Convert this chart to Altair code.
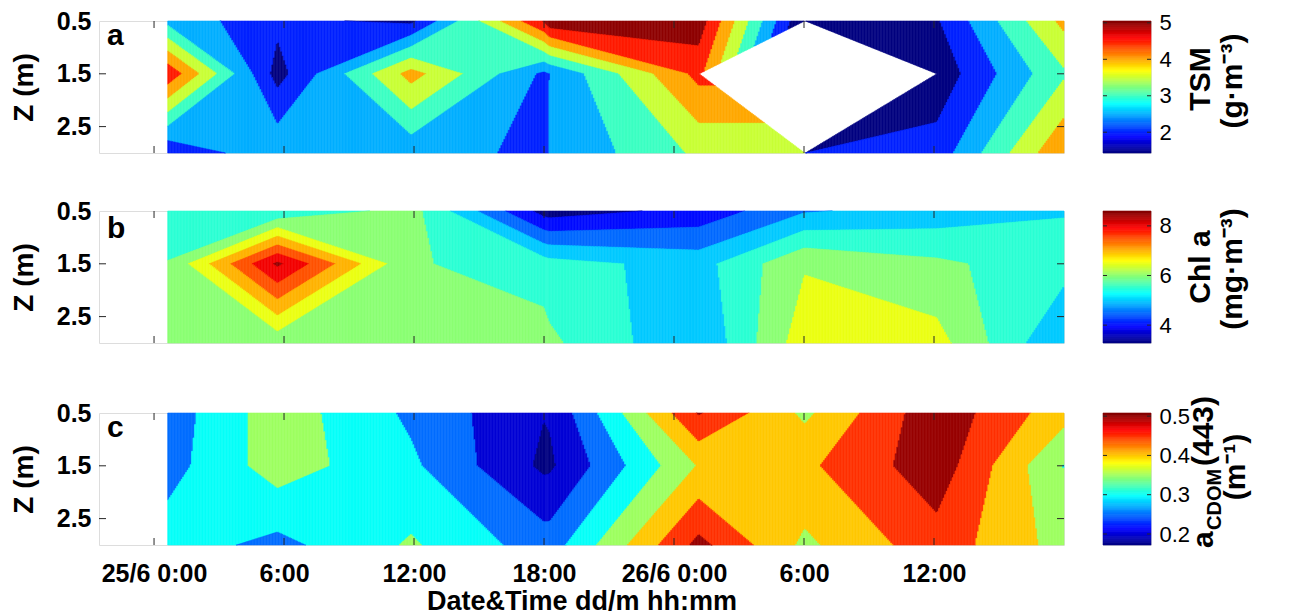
import math
import pandas as pd
import altair as alt

# ---------------- data ----------------
# sampling times in hours after 25/6 0:00 (two near-duplicate profiles where the
# reference shows abrupt, vertical colour jumps)
TIME_H = [0.63, 5.71, 11.88, 18.0, 18.28, 25.15, 30.02, 30.07, 36.14, 42.0]
DEPTH_M = [0.5, 1.5, 3.0]
NAN = float("nan")

TSM_05 = [2.85, 2.12, 1.88, 5.05, 5.40, 5.30, 1.50, 1.50, 1.95, 4.15]
TSM_15 = [4.90, 1.80, 4.20, 2.40, 2.51, 4.66, NAN, NAN, 1.67, 3.43]
TSM_30 = [2.05, 2.90, 2.65, 2.42, 2.52, 3.60, 3.60, 2.00, 2.21, 4.46]

CHL_05 = [5.70, 5.55, 6.20, 3.80, 3.75, 4.15, 4.95, 4.95, 5.20, 5.47]
CHL_15 = [6.02, 8.60, 6.05, 5.76, 5.70, 5.30, 6.45, 6.45, 6.10, 5.70]
CHL_30 = [6.20, 6.15, 6.30, 6.20, 6.10, 5.03, 6.80, 6.80, 6.69, 5.00]

CDOM_05 = [0.272, 0.379, 0.290, 0.202, 0.205, 0.505, 0.390, 0.390, 0.535, 0.420]
CDOM_15 = [0.280, 0.376, 0.310, 0.190, 0.192, 0.404, 0.440, 0.440, 0.530, 0.348]
CDOM_30 = [0.325, 0.285, 0.3565, 0.275, 0.275, 0.515, 0.390, 0.390, 0.480, 0.380]

TSM_LEVELS = [2.0, 2.5, 3.0, 3.5, 4.0, 4.5, 5.0]
CHL_LEVELS = [4.0, 4.5, 5.0, 5.5, 6.0, 6.5, 7.0, 7.5, 8.0, 8.5]
CDOM_LEVELS = [0.20, 0.25, 0.30, 0.35, 0.40, 0.45, 0.50]

TSM_CLIM = [1.43, 5.05]
CHL_CLIM = [3.28, 8.60]
CDOM_CLIM = [0.172, 0.508]

TSM_TICKS = [2, 3, 4, 5]
CHL_TICKS = [4, 6, 8]
CDOM_TICKS = [0.2, 0.3, 0.4, 0.5]

X_TICKS_H = [0, 6, 12, 18, 24, 30, 36]
X_TICK_LABELS = ["25/6 0:00", "6:00", "12:00", "18:00", "26/6 0:00", "6:00", "12:00"]
X_DOMAIN = [-2.54, 42.0]
Y_TICKS = [0.5, 1.5, 2.5]

# ---------------- style ----------------
W, H = 965, 132
CBW = 48
FONT = "Liberation Sans, Arial, sans-serif"
FRAME = "#262626"


def jet(t):
    t = min(max(t, 0.0), 1.0)
    r = min(max(1.5 - abs(4 * t - 3), 0.0), 1.0)
    g = min(max(1.5 - abs(4 * t - 2), 0.0), 1.0)
    b = min(max(1.5 - abs(4 * t - 1), 0.0), 1.0)
    return "#%02x%02x%02x" % (round(r * 255), round(g * 255), round(b * 255))


def band_colors(levels, clim):
    lo, hi = clim
    return [jet(0.0)] + [jet((L - lo) / (hi - lo)) for L in levels]


# ---------------- filled-contour rendering (linear, marching squares) ----------------
def vline_extent(poly, xs):
    ys = []
    n = len(poly)
    for i in range(n):
        x0, y0 = poly[i][0], poly[i][1]
        x1, y1 = poly[(i + 1) % n][0], poly[(i + 1) % n][1]
        if x0 == x1:
            if x0 == xs:
                ys += [y0, y1]
            continue
        if (x0 - xs) * (x1 - xs) <= 0:
            f = (xs - x0) / (x1 - x0)
            ys.append(y0 + f * (y1 - y0))
    if not ys:
        return None
    return min(ys), max(ys)


def crossing(p, q, L):
    f = (L - p[2]) / (q[2] - p[2])
    return (p[0] + f * (q[0] - p[0]), p[1] + f * (q[1] - p[1]))


def above_polys(poly, L):
    n = len(poly)
    flags = [p[2] >= L for p in poly]
    if n == 4 and flags[0] == flags[2] and flags[1] == flags[3] and flags[0] != flags[1]:
        centre = sum(p[2] for p in poly) / 4.0
        if centre < L:  # saddle resolved as two separate corners
            out = []
            for i in range(4):
                if flags[i]:
                    p, prv, nxt = poly[i], poly[i - 1], poly[(i + 1) % 4]
                    out.append([(p[0], p[1]), crossing(p, nxt, L), crossing(prv, p, L)])
            return out
    out = []
    for i in range(n):
        p = poly[i]
        q = poly[(i + 1) % n]
        if p[2] >= L:
            out.append((p[0], p[1]))
        if (p[2] - L) * (q[2] - L) < 0:
            out.append(crossing(p, q, L))
    return [out] if len(out) >= 3 else []


def contour_table(times, depths, grid, levels, colors, step):
    rows = []
    for i in range(len(times) - 1):
        t0, t1 = times[i], times[i + 1]
        pieces = []
        for j in range(len(depths) - 1):
            corners = [
                (t0, depths[j], grid[j][i]),
                (t1, depths[j], grid[j][i + 1]),
                (t1, depths[j + 1], grid[j + 1][i + 1]),
                (t0, depths[j + 1], grid[j + 1][i]),
            ]
            valid = [c for c in corners if not math.isnan(c[2])]
            if len(valid) >= 3:
                pieces.append(valid)
        above = [[above_polys(p, L) for L in levels] for p in pieces]
        n = max(1, int(math.ceil((t1 - t0) / step)))
        for s in range(n):
            xa = t0 + (t1 - t0) * s / n
            xb = t0 + (t1 - t0) * (s + 1) / n
            xs = 0.5 * (xa + xb)
            segs = []
            for p, ab in zip(pieces, above):
                ext = vline_extent([(c[0], c[1]) for c in p], xs)
                if ext is None:
                    continue
                y0, y1 = ext
                ivs = []
                for polys in ab:
                    lst = []
                    for q in polys:
                        e = vline_extent(q, xs)
                        if e:
                            lst.append(e)
                    ivs.append(lst)
                bps = {y0, y1}
                for lst in ivs:
                    for e in lst:
                        bps.add(min(max(e[0], y0), y1))
                        bps.add(min(max(e[1], y0), y1))
                bps = sorted(bps)
                for a, b in zip(bps[:-1], bps[1:]):
                    if b - a < 1e-9:
                        continue
                    m = 0.5 * (a + b)
                    k = sum(1 for lst in ivs if any(e[0] <= m <= e[1] for e in lst))
                    segs.append((a, b, k))
            segs.sort()
            merged = []
            for a, b, k in segs:
                if merged and merged[-1][2] == k and abs(merged[-1][1] - a) < 1e-7:
                    merged[-1][1] = b
                else:
                    merged.append([a, b, k])
            for a, b, k in merged:
                rows.append({"x0": round(xa, 4), "x1": round(xb, 4),
                             "y0": round(a, 4), "y1": round(b, 4), "c": colors[k]})
    return pd.DataFrame(rows)


STEP = 1.5 * (X_DOMAIN[1] - X_DOMAIN[0]) / W


def label_expr(values, labels):
    expr = "''"
    for v, l in reversed(list(zip(values, labels))):
        expr = f"datum.value == {v} ? '{l}' : ({expr})"
    return expr


def panel(grid, levels, clim, letter, letter_y, show_x):
    colors = band_colors(levels, clim)
    df = contour_table(TIME_H, DEPTH_M, grid, levels, colors, STEP)
    xscale = alt.Scale(domain=X_DOMAIN, nice=False, zero=False)
    yscale = alt.Scale(domain=[0.5, 3.0], reverse=True, nice=False, zero=False)
    if show_x:
        xaxis = alt.Axis(values=X_TICKS_H, labelExpr=label_expr(X_TICKS_H, X_TICK_LABELS),
                         tickSize=0, domain=False, grid=False, labelFont=FONT,
                         labelFontSize=25, labelFontWeight="bold", labelColor="black",
                         labelPadding=16, title="Date&Time dd/m hh:mm", titleFont=FONT,
                         titleFontSize=27, titleFontWeight="bold", titleColor="black",
                         titlePadding=2)
    else:
        xaxis = alt.Axis(labels=False, ticks=False, domain=False, grid=False, title=None)
    yaxis = alt.Axis(values=Y_TICKS, format=".1f", tickSize=0, domain=False, grid=False,
                     labelFont=FONT, labelFontSize=25, labelFontWeight="bold",
                     labelColor="black", labelPadding=8, title="Z (m)", titleFont=FONT,
                     titleFontSize=28, titleFontWeight="bold", titleColor="black",
                     titlePadding=18)
    rects = alt.Chart(df).mark_rect(strokeWidth=0.6).encode(
        x=alt.X("x0:Q", scale=xscale, axis=xaxis),
        x2="x1:Q",
        y=alt.Y("y0:Q", scale=yscale, axis=yaxis),
        y2="y1:Q",
        fill=alt.Fill("c:N", scale=None),
        stroke=alt.Stroke("c:N", scale=None),
    )
    xt = pd.DataFrame({"x0": X_TICKS_H})
    yt = pd.DataFrame({"y0": Y_TICKS[1:]})
    tick_top = alt.Chart(xt).mark_rule(color=FRAME, strokeWidth=1).encode(
        x=alt.X("x0:Q", scale=xscale, axis=xaxis), y=alt.value(0), y2=alt.value(7))
    tick_bot = alt.Chart(xt).mark_rule(color=FRAME, strokeWidth=1).encode(
        x=alt.X("x0:Q", scale=xscale, axis=xaxis), y=alt.value(H), y2=alt.value(H - 7))
    tick_l = alt.Chart(yt).mark_rule(color=FRAME, strokeWidth=1).encode(
        y=alt.Y("y0:Q", scale=yscale, axis=yaxis), x=alt.value(0), x2=alt.value(7))
    tick_r = alt.Chart(yt).mark_rule(color=FRAME, strokeWidth=1).encode(
        y=alt.Y("y0:Q", scale=yscale, axis=yaxis), x=alt.value(W), x2=alt.value(W - 7))
    let = alt.Chart(pd.DataFrame({"s": [letter]})).mark_text(
        font=FONT, fontSize=30, fontWeight="bold", align="left", baseline="alphabetic",
        color="black").encode(text="s:N", x=alt.value(8), y=alt.value(letter_y))
    return alt.layer(rects, tick_top, tick_bot, tick_l, tick_r, let).properties(width=W, height=H)


def colorbar(clim, ticks, fmt, texts):
    lo, hi = clim
    n = 120
    edges = [lo + (hi - lo) * k / n for k in range(n + 1)]
    df = pd.DataFrame({
        "lo": edges[:-1], "hi": edges[1:],
        "c": [jet((k + 0.5) / n) for k in range(n)],
    })
    ysc = alt.Scale(domain=[lo, hi], nice=False, zero=False)
    yax = alt.Axis(orient="right", values=ticks, format=fmt, tickSize=0,
                   domain=False, grid=False, labelFont=FONT, labelFontSize=22,
                   labelColor="black", labelPadding=8, title=None)
    bar = alt.Chart(df).mark_rect(strokeWidth=0.6).encode(
        y=alt.Y("lo:Q", scale=ysc, axis=yax),
        y2="hi:Q", x=alt.value(0), x2=alt.value(CBW),
        fill=alt.Fill("c:N", scale=None), stroke=alt.Stroke("c:N", scale=None))
    tdf = pd.DataFrame({"lo": ticks})
    tl = alt.Chart(tdf).mark_rule(color=FRAME).encode(
        y=alt.Y("lo:Q", scale=ysc, axis=yax), x=alt.value(0), x2=alt.value(4))
    tr = alt.Chart(tdf).mark_rule(color=FRAME).encode(
        y=alt.Y("lo:Q", scale=ysc, axis=yax), x=alt.value(CBW), x2=alt.value(CBW - 4))
    layers = [bar, tl, tr]
    for (s, size, px, py, align, dx) in texts:
        layers.append(alt.Chart(pd.DataFrame({"s": [s]})).mark_text(
            font=FONT, fontSize=size, fontWeight="bold", angle=270, align=align,
            baseline="alphabetic", color="black", dx=dx).encode(
            text="s:N", x=alt.value(px), y=alt.value(py)))
    return alt.layer(*layers).properties(width=CBW, height=H)


TSM_GRID = [TSM_05, TSM_15, TSM_30]
CHL_GRID = [CHL_05, CHL_15, CHL_30]
CDOM_GRID = [CDOM_05, CDOM_15, CDOM_30]

pa = panel(TSM_GRID, TSM_LEVELS, TSM_CLIM, "a", 24, False)
pb = panel(CHL_GRID, CHL_LEVELS, CHL_CLIM, "b", 27, False)
pc = panel(CDOM_GRID, CDOM_LEVELS, CDOM_CLIM, "c", 24, True)

ca = colorbar(TSM_CLIM, TSM_TICKS, "d", [
    ("TSM", 30, 107, 58, "center", 0),
    ("(g\u00b7m\u207b\u00b3)", 30, 139, 60, "center", 0),
])
cb = colorbar(CHL_CLIM, CHL_TICKS, "d", [
    ("Chl a", 30, 107, 56, "center", 0),
    ("(mg\u00b7m\u207b\u00b3)", 30, 139, 58, "center", 0),
])
cc = colorbar(CDOM_CLIM, CDOM_TICKS, ".1f", [
    ("a", 30, 110, 135, "left", 0),
    ("CDOM", 20, 118, 135, "left", 18),
    ("(443)", 30, 110, 135, "left", 82),
    ("(m\u207b\u00b9)", 30, 142, 54, "center", 0),
])

row_a = alt.hconcat(pa, ca, spacing=37)
row_b = alt.hconcat(pb, cb, spacing=37)
row_c = alt.hconcat(pc, cc, spacing=37)

chart = alt.vconcat(
    alt.vconcat(row_a, row_b, spacing=44),
    row_c, spacing=51,
).properties(
    padding={"left": 1, "top": 0, "right": 5, "bottom": 0}
).configure_view(stroke=FRAME, strokeWidth=1).configure(background="white")

chart.save("out.html", embed_options={"renderer": "svg", "actions": False})
